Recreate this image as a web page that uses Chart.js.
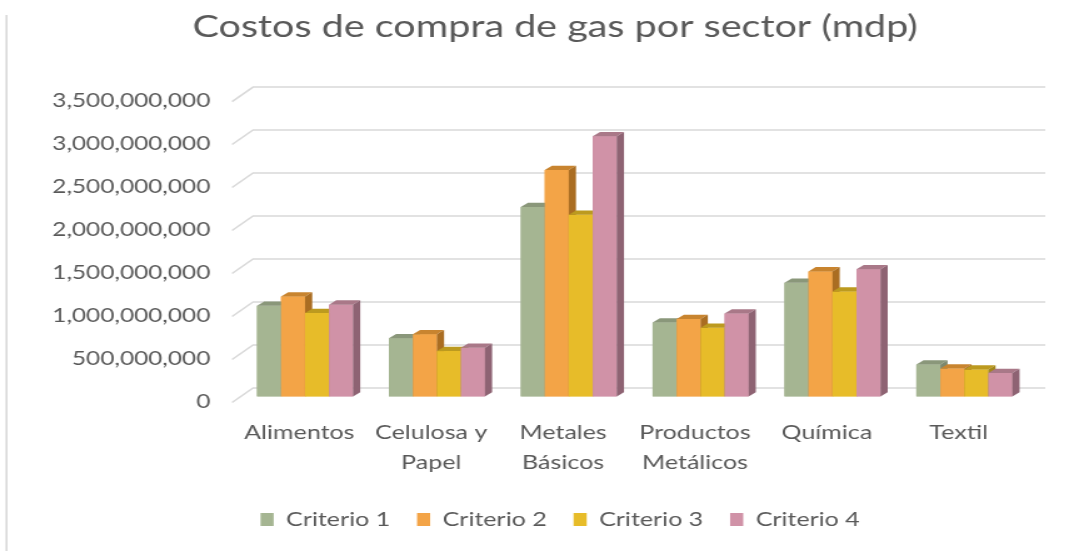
<!DOCTYPE html>
<html>
<head>
<meta charset="utf-8">
<script src="https://cdn.jsdelivr.net/npm/chart.js@4.4.1/dist/chart.umd.min.js"></script>
<style>
  html, body { margin: 0; padding: 0; background: #fff; }
</style>
</head>
<body>
<!-- the source picture is stretched sideways, so the canvas is drawn narrower and widened by css -->
<canvas id="grafica" width="871" height="551" style="display:block;width:1089px;height:551px"></canvas>
<script>
const sectores = ['Alimentos', ['Celulosa y', 'Papel'], ['Metales', 'Básicos'], ['Productos', 'Metálicos'], 'Química', 'Textil'];
const criterio1 = [1056000000, 677000000, 2203000000, 860000000, 1323000000, 372000000];
const criterio2 = [1162000000, 724000000, 2633000000, 900000000, 1455000000, 325000000];
const criterio3 = [971000000, 528000000, 2113000000, 800000000, 1221000000, 313000000];
const criterio4 = [1068000000, 567000000, 3025000000, 966000000, 1479000000, 274000000];
const nombres = ['Criterio 1', 'Criterio 2', 'Criterio 3', 'Criterio 4'];
const ticksY = [0, 500000000, 1000000000, 1500000000, 2000000000, 2500000000, 3000000000, 3500000000];

const frentes = ['#A5B592', '#F3A447', '#E7BC29', '#D092A7'];
const techos = ['#8A977A', '#C8842F', '#BC9A1F', '#A97888'];
const lados = ['#7C886D', '#AA6D22', '#A2861B', '#8E6373'];
const gris = '#595959';

// depth of the 3d bars
const prof = { dx: 5.8, dy: -4.3 };

function poligono(ctx, pts) {
  ctx.beginPath();
  ctx.moveTo(pts[0][0], pts[0][1]);
  for (let i = 1; i < pts.length; i++) ctx.lineTo(pts[i][0], pts[i][1]);
  ctx.closePath();
  ctx.fill();
}

const efecto3d = {
  id: 'efecto3d',
  afterLayout(chart) {
    // title and legend sit a bit right of the plot centre in the original
    chart.titleBlock.left += 22;
    chart.titleBlock.right += 22;
    chart.legend.left += 26;
    chart.legend.right += 26;
  },
  beforeDraw(chart) {
    const ctx = chart.ctx;
    ctx.save();
    ctx.strokeStyle = '#D9D9D9';
    ctx.lineWidth = 1.6;
    ctx.beginPath();
    ctx.moveTo(5.2, 15);
    ctx.lineTo(5.2, 551);
    ctx.stroke();
    ctx.restore();
  },
  beforeDatasetsDraw(chart) {
    const {ctx, chartArea: a, scales: {y}} = chart;
    ctx.save();
    ctx.strokeStyle = '#D9D9D9';
    ctx.lineWidth = 1.6;
    y.ticks.forEach(t => {
      const py = y.getPixelForValue(t.value);
      ctx.beginPath();
      ctx.moveTo(a.left - 5.6, py + 6);
      ctx.lineTo(a.left + 11.2, py - 8.5);
      ctx.lineTo(a.right + 12, py - 8.5);
      ctx.stroke();
    });
    ctx.restore();
  },
  afterDatasetsDraw(chart) {
    const ctx = chart.ctx;
    const {dx, dy} = prof;
    ctx.save();
    chart.data.datasets.forEach((ds, i) => {
      chart.getDatasetMeta(i).data.forEach(bar => {
        bar.draw(ctx);
        const l = bar.x - bar.width / 2;
        const r = bar.x + bar.width / 2;
        ctx.fillStyle = techos[i];
        poligono(ctx, [[l, bar.y], [r, bar.y], [r + dx, bar.y + dy], [l + dx, bar.y + dy]]);
        ctx.fillStyle = lados[i];
        poligono(ctx, [[r, bar.y], [r + dx, bar.y + dy], [r + dx, bar.base + dy], [r, bar.base]]);
      });
    });
    ctx.restore();
  }
};

function dibujar() {
  const series = [criterio1, criterio2, criterio3, criterio4];
  new Chart(document.getElementById('grafica'), {
    type: 'bar',
    data: {
      labels: sectores,
      datasets: series.map((valores, i) => ({
        label: nombres[i],
        data: valores,
        backgroundColor: frentes[i],
        borderWidth: 0,
        categoryPercentage: 0.728,
        barPercentage: 1
      }))
    },
    options: {
      responsive: false,
      devicePixelRatio: 1,
      animation: false,
      layout: { padding: { left: 20, right: 47, top: 0, bottom: 11.5 } },
      plugins: {
        title: {
          display: true,
          text: 'Costos de compra de gas por sector (mdp)',
          color: gris,
          font: { family: 'Lato', size: 31.6, weight: 'normal' },
          padding: { top: 8, bottom: 49.6 }
        },
        legend: {
          position: 'bottom',
          labels: {
            boxWidth: 10.5,
            boxHeight: 13,
            padding: 21.5,
            color: gris,
            font: { family: 'Lato', size: 20 }
          }
        },
        tooltip: { enabled: false }
      },
      scales: {
        x: {
          grid: { display: false, drawTicks: false },
          border: { display: false },
          ticks: {
            color: gris,
            font: { family: 'Lato', size: 20, lineHeight: 1.5 },
            padding: 21,
            labelOffset: -4.5,
            maxRotation: 0,
            autoSkip: false
          },
          afterFit(s) { s.height = 91.5; }
        },
        y: {
          min: 0,
          max: 3500000000,
          grid: { display: false, drawTicks: false },
          border: { display: false },
          ticks: {
            color: gris,
            font: { family: 'Lato', size: 19.5 },
            padding: 23,
            labelOffset: 5,
            callback: v => v.toLocaleString('en-US')
          },
          afterBuildTicks(s) { s.ticks = ticksY.map(v => ({ value: v })); },
          afterFit(s) { s.width = 171.2; }
        }
      }
    },
    plugins: [efecto3d]
  });
}

document.fonts.load('20px Lato').then(dibujar, dibujar);
</script>
</body>
</html>
